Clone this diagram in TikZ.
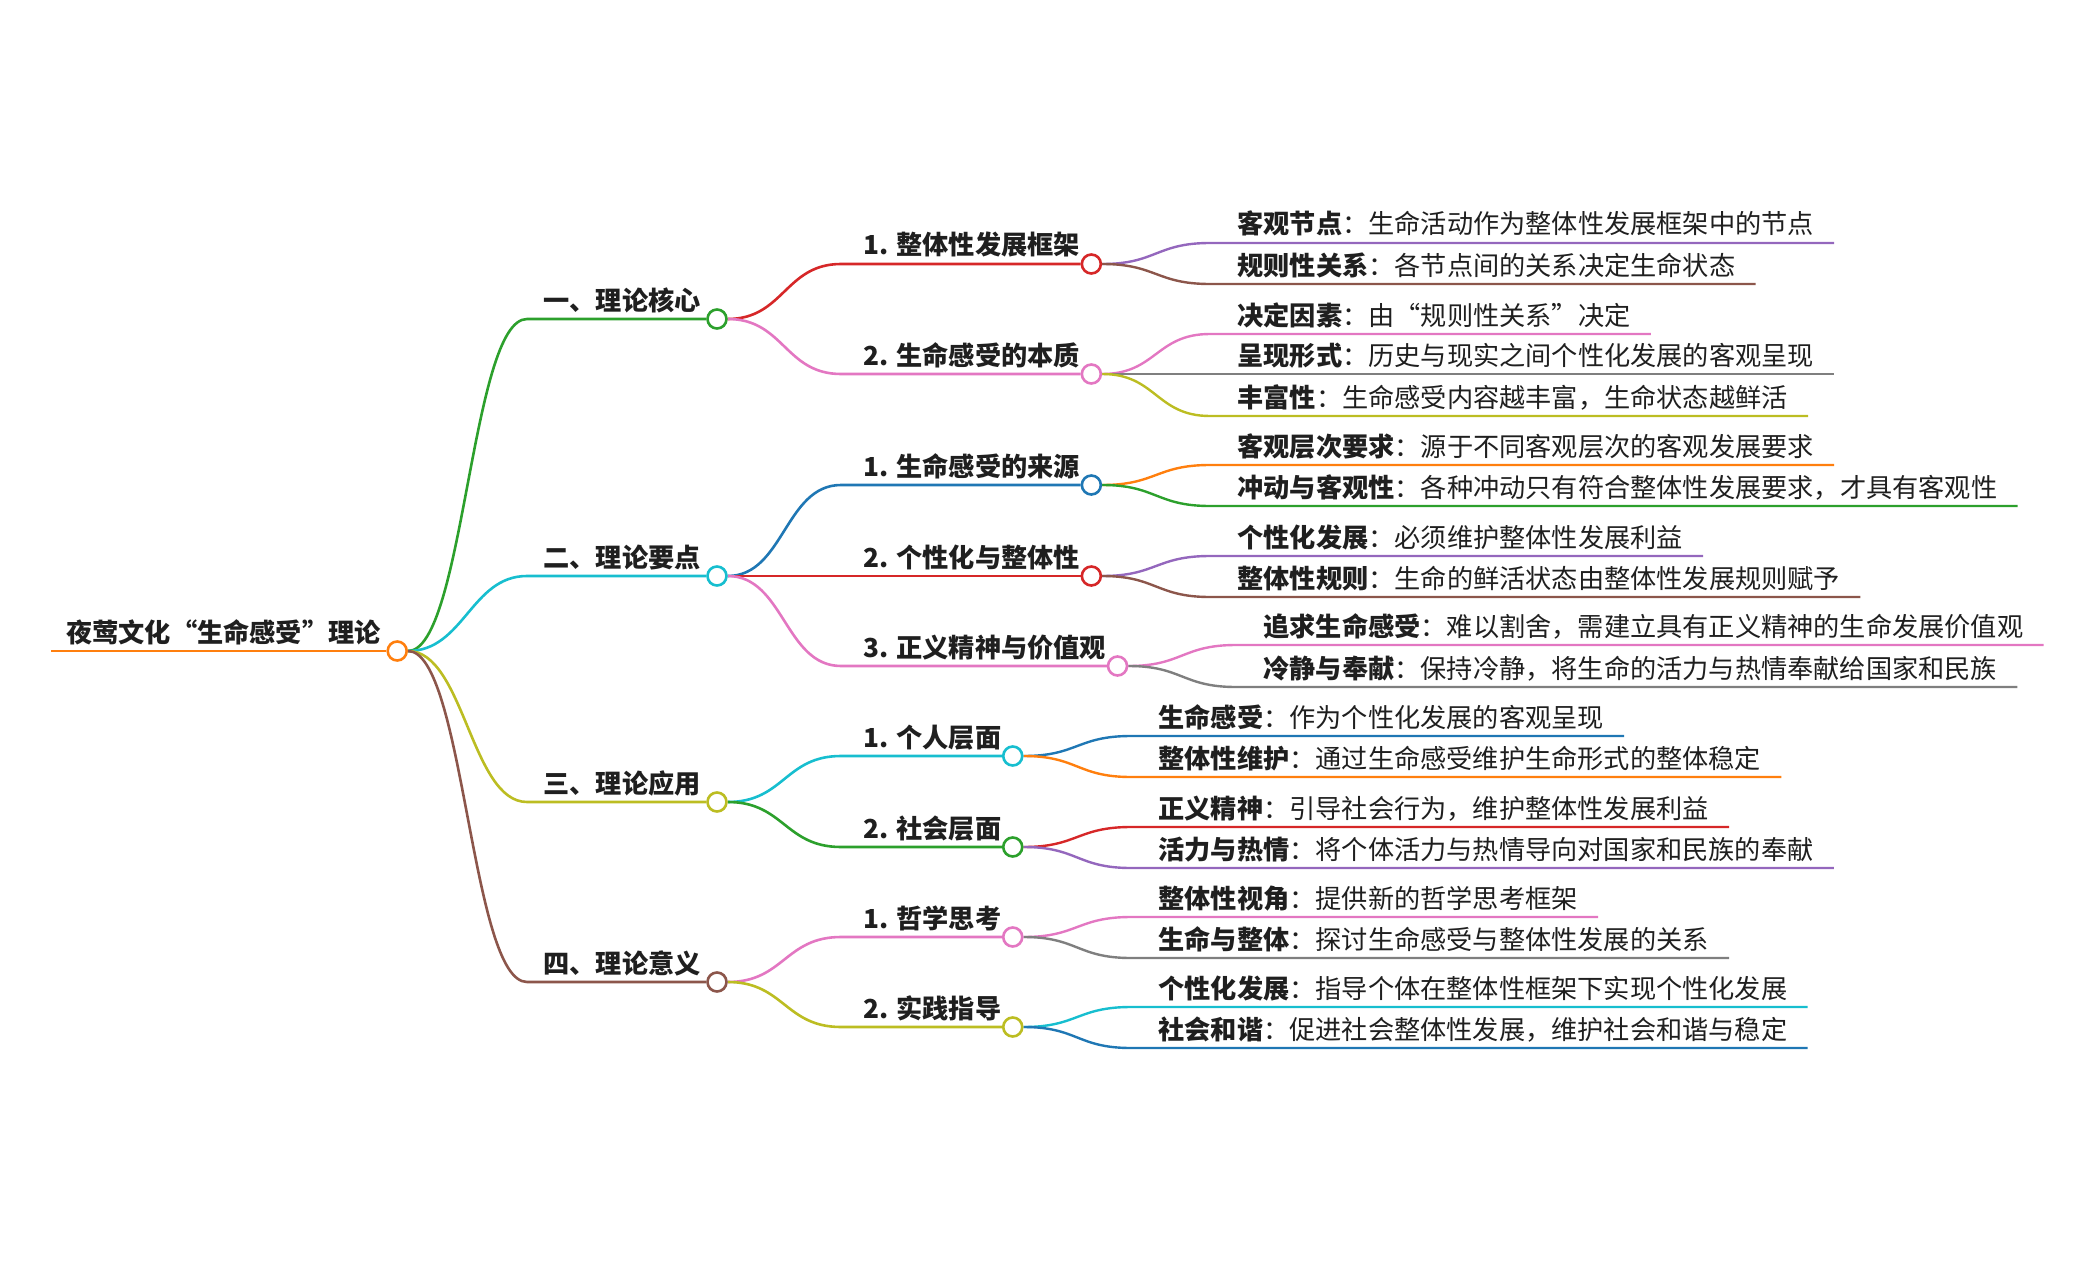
\documentclass[tikz,border=0pt]{standalone}
\usepackage{fontspec}
\setmainfont{Noto Sans CJK SC}
\usepackage{tikz}
\pgfdeclarelayer{bg}
\pgfsetlayers{bg,main}
\definecolor{mmblue}{HTML}{1F77B4}
\definecolor{mmorange}{HTML}{FF7F0E}
\definecolor{mmgreen}{HTML}{2CA02C}
\definecolor{mmred}{HTML}{D62728}
\definecolor{mmpurple}{HTML}{9467BD}
\definecolor{mmbrown}{HTML}{8C564B}
\definecolor{mmpink}{HTML}{E377C2}
\definecolor{mmgray}{HTML}{7F7F7F}
\definecolor{mmolive}{HTML}{BCBD22}
\definecolor{mmcyan}{HTML}{17BECF}
\tikzset{
    every node/.style={inner sep=0mm, text=black!88}
}
\tikzset{
    dot/.style={circle, draw, fill=white, minimum size=9.5pt, line width=1.3pt},
    head/.style={anchor=base west, font=\fontsize{13.1pt}{15pt}\selectfont\bfseries},
    leaf/.style={anchor=base west, font=\fontsize{13.1pt}{15pt}\selectfont},
    link/.style={line width=1.3pt, out=0, in=180, distance=28pt},
    twig/.style={line width=1.2pt, out=0, in=180, distance=27pt}
}

\begin{document}
\begin{tikzpicture}[x=0.5pt, y=-0.5pt]
    \useasboundingbox (0,0) rectangle (2095,1279);

    \coordinate (s0) at (51,651);
    \node (t0) [head] at (66,642) {夜莺文化“生命感受”理论};
    \node (c0) [dot, draw=mmorange] at ([xshift=8pt, yshift=-4.5pt]t0.base east) {};

    \node (t1) [head] at (543,310) {一、理论核心};
    \node (t2) [head] at (543,567) {二、理论要点};
    \node (t3) [head] at (543,793) {三、理论应用};
    \node (t4) [head] at (543,973) {四、理论意义};
    \node (c1) [dot, draw=mmgreen] at ([xshift=8pt, yshift=-4.5pt]t1.base east) {};
    \node (c2) [dot, draw=mmcyan] at ([xshift=8pt, yshift=-4.5pt]t2.base east) {};
    \node (c3) [dot, draw=mmolive] at ([xshift=8pt, yshift=-4.5pt]t3.base east) {};
    \node (c4) [dot, draw=mmbrown] at ([xshift=8pt, yshift=-4.5pt]t4.base east) {};

    \node (t11) [head] at (863,255) {1. 整体性发展框架};
    \node (t12) [head] at (863,365) {2. 生命感受的本质};
    \node (t21) [head] at (863,476) {1. 生命感受的来源};
    \node (t22) [head] at (863,567) {2. 个性化与整体性};
    \node (t23) [head] at (863,657) {3. 正义精神与价值观};
    \node (t31) [head] at (863,747) {1. 个人层面};
    \node (t32) [head] at (863,838) {2. 社会层面};
    \node (t41) [head] at (863,928) {1. 哲学思考};
    \node (t42) [head] at (863,1018) {2. 实践指导};
    \node (c11) [dot, draw=mmred] at ([xshift=5.5pt, yshift=-4.5pt]t11.base east) {};
    \node (c12) [dot, draw=mmpink] at ([xshift=5.5pt, yshift=-4.5pt]t12.base east) {};
    \node (c21) [dot, draw=mmblue] at ([xshift=5.5pt, yshift=-4.5pt]t21.base east) {};
    \node (c22) [dot, draw=mmred] at ([xshift=5.5pt, yshift=-4.5pt]t22.base east) {};
    \node (c23) [dot, draw=mmpink] at ([xshift=5.5pt, yshift=-4.5pt]t23.base east) {};
    \node (c31) [dot, draw=mmcyan] at ([xshift=5.5pt, yshift=-4.5pt]t31.base east) {};
    \node (c32) [dot, draw=mmgreen] at ([xshift=5.5pt, yshift=-4.5pt]t32.base east) {};
    \node (c41) [dot, draw=mmpink] at ([xshift=5.5pt, yshift=-4.5pt]t41.base east) {};
    \node (c42) [dot, draw=mmolive] at ([xshift=5.5pt, yshift=-4.5pt]t42.base east) {};

    \node (l111) [leaf] at (1237,234) {\textbf{客观节点}：生命活动作为整体性发展框架中的节点};
    \node (l112) [leaf] at (1237,275) {\textbf{规则性关系}：各节点间的关系决定生命状态};
    \node (l121) [leaf] at (1237,325) {\textbf{决定因素}：由“规则性关系”决定};
    \node (l122) [leaf] at (1237,365) {\textbf{呈现形式}：历史与现实之间个性化发展的客观呈现};
    \node (l123) [leaf] at (1237,407) {\textbf{丰富性}：生命感受内容越丰富，生命状态越鲜活};
    \node (l211) [leaf] at (1237,456) {\textbf{客观层次要求}：源于不同客观层次的客观发展要求};
    \node (l212) [leaf] at (1237,497) {\textbf{冲动与客观性}：各种冲动只有符合整体性发展要求，才具有客观性};
    \node (l221) [leaf] at (1237,547) {\textbf{个性化发展}：必须维护整体性发展利益};
    \node (l222) [leaf] at (1237,588) {\textbf{整体性规则}：生命的鲜活状态由整体性发展规则赋予};
    \node (l231) [leaf] at (1263,636) {\textbf{追求生命感受}：难以割舍，需建立具有正义精神的生命发展价值观};
    \node (l232) [leaf] at (1263,678) {\textbf{冷静与奉献}：保持冷静，将生命的活力与热情奉献给国家和民族};
    \node (l311) [leaf] at (1158,727) {\textbf{生命感受}：作为个性化发展的客观呈现};
    \node (l312) [leaf] at (1158,768) {\textbf{整体性维护}：通过生命感受维护生命形式的整体稳定};
    \node (l321) [leaf] at (1158,818) {\textbf{正义精神}：引导社会行为，维护整体性发展利益};
    \node (l322) [leaf] at (1158,859) {\textbf{活力与热情}：将个体活力与热情导向对国家和民族的奉献};
    \node (l411) [leaf] at (1158,908) {\textbf{整体性视角}：提供新的哲学思考框架};
    \node (l412) [leaf] at (1158,949) {\textbf{生命与整体}：探讨生命感受与整体性发展的关系};
    \node (l421) [leaf] at (1158,998) {\textbf{个性化发展}：指导个体在整体性框架下实现个性化发展};
    \node (l422) [leaf] at (1158,1039) {\textbf{社会和谐}：促进社会整体性发展，维护社会和谐与稳定};

    \begin{pgfonlayer}{bg}
        \draw [mmorange, line width=1.4pt] (s0) -- (c0.west);

        \draw [link, mmgreen] (c0.east) to ([xshift=-8pt, yshift=-4.5pt]t1.base west) -- (c1.west);
        \draw [link, mmcyan] (c0.east) to ([xshift=-8pt, yshift=-4.5pt]t2.base west) -- (c2.west);
        \draw [link, mmolive] (c0.east) to ([xshift=-8pt, yshift=-4.5pt]t3.base west) -- (c3.west);
        \draw [link, mmbrown] (c0.east) to ([xshift=-8pt, yshift=-4.5pt]t4.base west) -- (c4.west);

        \draw [link, mmred] (c1.east) to ([xshift=-11pt, yshift=-4.5pt]t11.base west) -- (c11.west);
        \draw [link, mmpink] (c1.east) to ([xshift=-11pt, yshift=-4.5pt]t12.base west) -- (c12.west);
        \draw [link, mmblue] (c2.east) to ([xshift=-11pt, yshift=-4.5pt]t21.base west) -- (c21.west);
        \draw [link, mmred] (c2.east) to ([xshift=-11pt, yshift=-4.5pt]t22.base west) -- (c22.west);
        \draw [link, mmpink] (c2.east) to ([xshift=-11pt, yshift=-4.5pt]t23.base west) -- (c23.west);
        \draw [link, mmcyan] (c3.east) to ([xshift=-11pt, yshift=-4.5pt]t31.base west) -- (c31.west);
        \draw [link, mmgreen] (c3.east) to ([xshift=-11pt, yshift=-4.5pt]t32.base west) -- (c32.west);
        \draw [link, mmpink] (c4.east) to ([xshift=-11pt, yshift=-4.5pt]t41.base west) -- (c41.west);
        \draw [link, mmolive] (c4.east) to ([xshift=-11pt, yshift=-4.5pt]t42.base west) -- (c42.west);

        \draw [twig, mmpurple] (c11.east) to ([xshift=-13.5pt, yshift=-4.5pt]l111.base west) -- ([xshift=10pt, yshift=-4.5pt]l111.base east);
        \draw [twig, mmbrown] (c11.east) to ([xshift=-13.5pt, yshift=-4.5pt]l112.base west) -- ([xshift=10pt, yshift=-4.5pt]l112.base east);
        \draw [twig, mmpink] (c12.east) to ([xshift=-13.5pt, yshift=-4.5pt]l121.base west) -- ([xshift=10pt, yshift=-4.5pt]l121.base east);
        \draw [twig, mmgray] (c12.east) to ([xshift=-13.5pt, yshift=-4.5pt]l122.base west) -- ([xshift=10pt, yshift=-4.5pt]l122.base east);
        \draw [twig, mmolive] (c12.east) to ([xshift=-13.5pt, yshift=-4.5pt]l123.base west) -- ([xshift=10pt, yshift=-4.5pt]l123.base east);
        \draw [twig, mmorange] (c21.east) to ([xshift=-13.5pt, yshift=-4.5pt]l211.base west) -- ([xshift=10pt, yshift=-4.5pt]l211.base east);
        \draw [twig, mmgreen] (c21.east) to ([xshift=-13.5pt, yshift=-4.5pt]l212.base west) -- ([xshift=10pt, yshift=-4.5pt]l212.base east);
        \draw [twig, mmpurple] (c22.east) to ([xshift=-13.5pt, yshift=-4.5pt]l221.base west) -- ([xshift=10pt, yshift=-4.5pt]l221.base east);
        \draw [twig, mmbrown] (c22.east) to ([xshift=-13.5pt, yshift=-4.5pt]l222.base west) -- ([xshift=10pt, yshift=-4.5pt]l222.base east);
        \draw [twig, mmpink] (c23.east) to ([xshift=-13.5pt, yshift=-4.5pt]l231.base west) -- ([xshift=10pt, yshift=-4.5pt]l231.base east);
        \draw [twig, mmgray] (c23.east) to ([xshift=-13.5pt, yshift=-4.5pt]l232.base west) -- ([xshift=10pt, yshift=-4.5pt]l232.base east);
        \draw [twig, mmblue] (c31.east) to ([xshift=-13.5pt, yshift=-4.5pt]l311.base west) -- ([xshift=10pt, yshift=-4.5pt]l311.base east);
        \draw [twig, mmorange] (c31.east) to ([xshift=-13.5pt, yshift=-4.5pt]l312.base west) -- ([xshift=10pt, yshift=-4.5pt]l312.base east);
        \draw [twig, mmred] (c32.east) to ([xshift=-13.5pt, yshift=-4.5pt]l321.base west) -- ([xshift=10pt, yshift=-4.5pt]l321.base east);
        \draw [twig, mmpurple] (c32.east) to ([xshift=-13.5pt, yshift=-4.5pt]l322.base west) -- ([xshift=10pt, yshift=-4.5pt]l322.base east);
        \draw [twig, mmpink] (c41.east) to ([xshift=-13.5pt, yshift=-4.5pt]l411.base west) -- ([xshift=10pt, yshift=-4.5pt]l411.base east);
        \draw [twig, mmgray] (c41.east) to ([xshift=-13.5pt, yshift=-4.5pt]l412.base west) -- ([xshift=10pt, yshift=-4.5pt]l412.base east);
        \draw [twig, mmcyan] (c42.east) to ([xshift=-13.5pt, yshift=-4.5pt]l421.base west) -- ([xshift=10pt, yshift=-4.5pt]l421.base east);
        \draw [twig, mmblue] (c42.east) to ([xshift=-13.5pt, yshift=-4.5pt]l422.base west) -- ([xshift=10pt, yshift=-4.5pt]l422.base east);
    \end{pgfonlayer}
\end{tikzpicture}
\end{document}
